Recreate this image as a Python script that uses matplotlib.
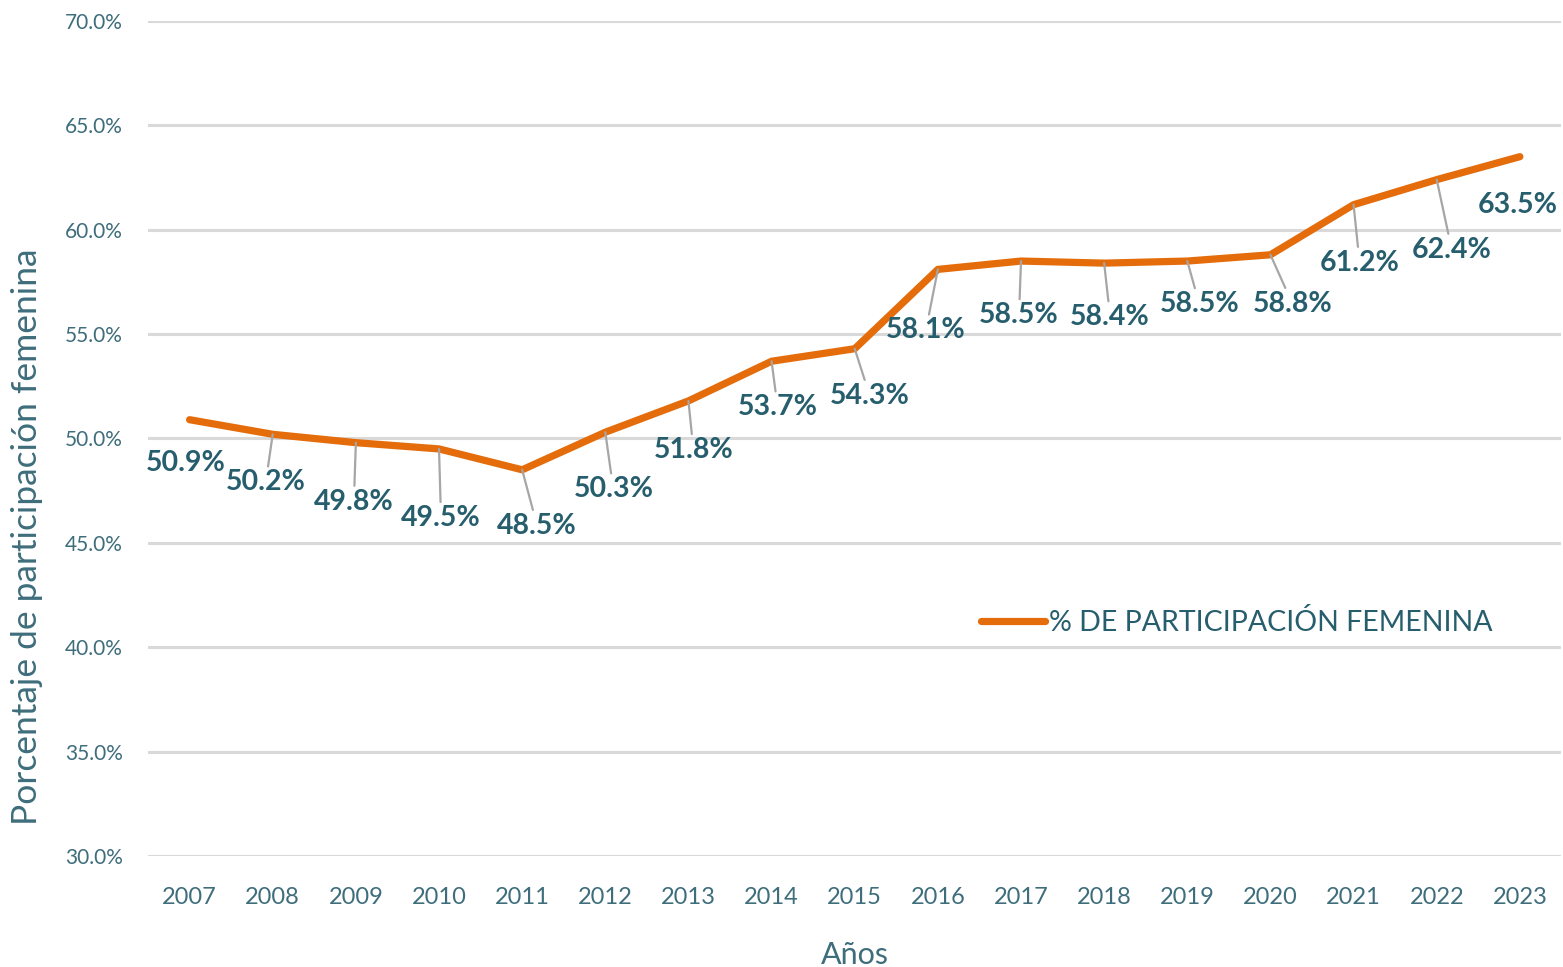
import matplotlib.pyplot as plt
from matplotlib.ticker import FuncFormatter

years = [2007, 2008, 2009, 2010, 2011, 2012, 2013, 2014, 2015,
         2016, 2017, 2018, 2019, 2020, 2021, 2022, 2023]
share = [50.9, 50.2, 49.8, 49.5, 48.5, 50.3, 51.8, 53.7, 54.3,
         58.1, 58.5, 58.4, 58.5, 58.8, 61.2, 62.4, 63.5]
series_name = '% DE PARTICIPACIÓN FEMENINA'

# label offsets in pixels (dx, dy), as Excel placed them
offsets = [(-4, -43), (-7, -48), (-2, -59), (2, -69), (15, -56), (8, -57),
           (5, -49), (6, -46), (15, -47), (-12, -61), (-2, -54), (6, -54),
           (12, -43), (22, -49), (6, -58), (15, -70), (-2, -48)]

orange = '#E46C0A'
teal = '#275E6D'
tick_col = '#3E6D7B'

plt.rcParams['font.family'] = ['Lato', 'DejaVu Sans']

fig = plt.figure(figsize=(15.63, 9.67), dpi=100)
ax = fig.add_axes([0.0947, 0.1148, 0.9043, 0.8635])

x = list(range(len(years)))
ax.plot(x, share, color=orange, lw=5.2, solid_capstyle='round',
        solid_joinstyle='round', label=series_name, zorder=3)

px = 72 / fig.dpi
for i, (v, (dx, dy)) in enumerate(zip(share, offsets)):
    lead = i not in (0, len(share) - 1)
    ax.annotate(f'{v:.1f}%', xy=(i, v), xytext=(dx * px, dy * px),
                textcoords='offset points', ha='center', va='center',
                fontsize=20.5, fontweight='bold', color=teal,
                bbox=dict(boxstyle='square,pad=0.1', fc='none', ec='none'),
                arrowprops=dict(arrowstyle='-', color='#A6A6A6', lw=1.6,
                                shrinkA=0, shrinkB=0) if lead else None,
                zorder=4)

ax.set_xlim(-0.5, len(years) - 0.5)
ax.set_ylim(30, 70)
ax.set_yticks(range(30, 71, 5))
ax.yaxis.set_major_formatter(FuncFormatter(lambda v, p: f'{v:.1f}%'))
ax.set_xticks(x)
ax.set_xticklabels([str(y) for y in years])
ax.grid(axis='y', color='#D9D9D9', lw=2.2)
ax.set_axisbelow(True)
for s in ax.spines.values():
    s.set_visible(False)
ax.tick_params(axis='both', length=0)
ax.tick_params(axis='x', labelsize=17, labelcolor=tick_col, pad=22)
ax.tick_params(axis='y', labelsize=15, labelcolor=tick_col, pad=18)

ax.set_xlabel('Años', fontsize=22, color=tick_col, labelpad=24)
ax.set_ylabel('Porcentaje de participación femenina', fontsize=25.5,
              color=tick_col)
ax.yaxis.set_label_coords(-0.074, 0.382)

ax.legend(loc='center left', bbox_to_anchor=(0.571, 0.28), frameon=False,
          fontsize=20.5, labelcolor=teal, handlelength=2.25, handletextpad=0.15)

fig.savefig('out.png', dpi=100)
